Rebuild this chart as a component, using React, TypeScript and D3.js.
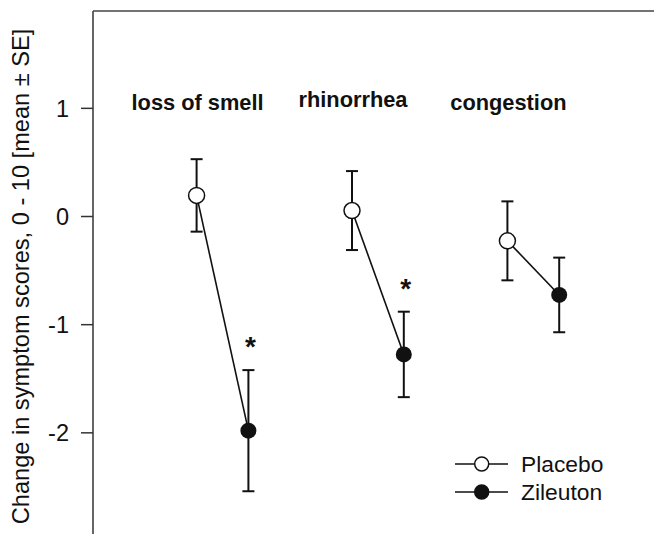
import React from 'react'
import * as d3 from 'd3'

// data
const categories = ['loss of smell', 'rhinorrhea', 'congestion']
const placeboMean = [0.195, 0.055, -0.225]
const placeboSE = [0.335, 0.365, 0.365]
const zileutonMean = [-1.98, -1.275, -0.725]
const zileutonSE = [0.56, 0.395, 0.345]
const significant = [true, true, false]
const yTicks = [1, 0, -1, -2]
const seriesNames = ['Placebo', 'Zileuton']

const width = 654
const height = 534
const font = '"Liberation Sans", Arial, Helvetica, sans-serif'

const App: React.FC = () => {
  // x positions: each group sits on two slots, with one empty slot between groups
  const x = d3.scaleLinear().domain([0, 10.83]).range([93, width])
  const y = d3.scaleLinear().domain([-3, 1.9]).range([541, 11])

  const px = (i: number) => x(2 + i * 3)
  const zx = (i: number) => x(3 + i * 3)
  const cap = 6
  const r = 8

  const errBar = (cx: number, m: number, se: number, key: string) => (
    <g key={key} stroke="#111" strokeWidth={2}>
      <line x1={cx} x2={cx} y1={y(m + se)} y2={y(m - se)} />
      <line x1={cx - cap} x2={cx + cap} y1={y(m + se)} y2={y(m + se)} />
      <line x1={cx - cap} x2={cx + cap} y1={y(m - se)} y2={y(m - se)} />
    </g>
  )

  return (
    <svg width={width} height={height} style={{ position: 'absolute', left: 0, top: 0, background: '#fff' }}
      fontFamily={font}>
      {/* frame: left axis and top line */}
      <line x1={x(0)} x2={x(0)} y1={y(1.9)} y2={height} stroke="#333" strokeWidth={1.5} />
      <line x1={x(0)} x2={width} y1={y(1.9)} y2={y(1.9)} stroke="#444" strokeWidth={1.5} />

      {yTicks.map(t => (
        <g key={t}>
          <line x1={x(0) - 12} x2={x(0)} y1={y(t)} y2={y(t)} stroke="#333" strokeWidth={1.5} />
          <text x={69} y={y(t)} dy="0.36em" textAnchor="end" fontSize={23.5} fill="#111">
            {t < 0 ? `-${Math.abs(t)}` : t}
          </text>
        </g>
      ))}

      <text transform={`translate(29,${(28 + 525) / 2}) rotate(-90)`} textAnchor="middle" fontSize={23.6} fill="#111">
        Change in symptom scores, 0 - 10 [mean ± SE]
      </text>

      {categories.map((c, i) => (
        <text key={c} x={px(i) + 1} y={i === 1 ? 107 : 110} textAnchor="middle" fontSize={21.8}
          fontWeight="bold" fill="#111">{c}</text>
      ))}

      {categories.map((c, i) => (
        <g key={c + '-marks'}>
          {errBar(px(i), placeboMean[i], placeboSE[i], 'p')}
          {errBar(zx(i), zileutonMean[i], zileutonSE[i], 'z')}
          <line x1={px(i)} y1={y(placeboMean[i])} x2={zx(i)} y2={y(zileutonMean[i])}
            stroke="#111" strokeWidth={1.6} />
          <circle cx={px(i)} cy={y(placeboMean[i])} r={r} fill="#fff" stroke="#111" strokeWidth={1.5} />
          <circle cx={zx(i)} cy={y(zileutonMean[i])} r={r} fill="#111" />
          {significant[i] && (
            <text x={zx(i) + 2} y={y(zileutonMean[i] + zileutonSE[i]) - 14} textAnchor="middle"
              fontSize={28} fontWeight="bold" fill="#111">*</text>
          )}
        </g>
      ))}

      {/* legend */}
      {seriesNames.map((s, i) => {
        const ly = 464 + i * 28
        return (
          <g key={s}>
            <line x1={455} x2={508} y1={ly} y2={ly} stroke="#111" strokeWidth={1.5} />
            <circle cx={481.7} cy={ly} r={7} fill={i === 0 ? '#fff' : '#111'} stroke="#111" strokeWidth={1.5} />
            <text x={521} y={ly} dy="0.36em" fontSize={22.8} fill="#111">{s}</text>
          </g>
        )
      })}
    </svg>
  )
}

export default App
